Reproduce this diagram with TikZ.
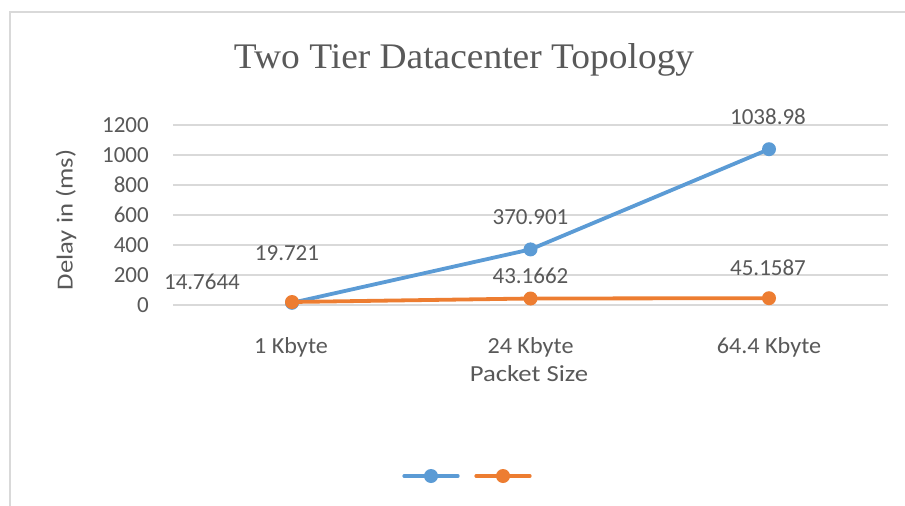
\documentclass[tikz,border=0pt]{standalone}
\usepackage{fontspec}
\setmainfont{Carlito}
\newfontfamily\titlefont[FakeStretch=1.04]{Liberation Serif}
\newfontfamily\catfont[FakeStretch=1.05]{Carlito}
\newfontfamily\axfont[FakeStretch=1.16]{Carlito}
\definecolor{txt}{HTML}{595959}
\definecolor{grid}{HTML}{D9D9D9}
\definecolor{sblue}{HTML}{5B9BD5}
\definecolor{sorange}{HTML}{ED7D31}
\begin{document}
\begin{tikzpicture}[x=1pt,y=-1pt,
  gridline/.style={draw=grid,line width=1.3pt},
  lbl/.style={text=txt,font=\fontsize{23}{26}\selectfont,inner sep=0pt},
  catlbl/.style={lbl,font=\catfont\fontsize{23}{26}\selectfont},
  axlbl/.style={lbl,font=\axfont\fontsize{23}{26}\selectfont},
  ticklbl/.style={lbl,anchor=east},
  serie/.style={line width=3.8pt,line cap=round,line join=round},
  mk/.style={circle,fill=#1,inner sep=0pt,minimum size=14pt}]
\useasboundingbox (0,0) rectangle (905,506);
\fill[white] (0,0) rectangle (905,506);
\draw[draw=grid,line width=1.5pt] (10,506) -- (10,12) -- (905,12);
% title
\node[text=txt,font=\titlefont\fontsize{36}{40}\selectfont,inner sep=0pt] (title) at (464,60) {Two Tier Datacenter Topology};
% grid and ticks
\foreach \v/\y in {0/305,200/275,400/245,600/215,800/185,1000/155,1200/125}{
  \draw[gridline] (173,\y) -- (888,\y);
  \node[ticklbl] (t\v) at (149,\y) {\v};
}
\node[axlbl,rotate=90] (ytitle) at (66,220) {Delay in (ms)};
% categories
\node[catlbl] (c1) at (291,347) {1 Kbyte};
\node[catlbl] (c2) at (530.5,347) {24 Kbyte};
\node[catlbl] (c3) at (769,347) {64.4 Kbyte};
\node[axlbl] (xtitle) at (529,374) {Packet Size};
% data
\coordinate (b1) at (292,302.8);
\coordinate (b2) at (530.5,249.4);
\coordinate (b3) at (769,149.2);
\coordinate (o1) at (292,302.0);
\coordinate (o2) at (530.5,298.5);
\coordinate (o3) at (769,298.2);
\draw[serie,sblue] (b1) -- (b2) -- (b3);
\foreach \p in {b1,b2,b3} \node[mk=sblue] at (\p) {};
\draw[serie,sorange] (o1) -- (o2) -- (o3);
\foreach \p in {o1,o2,o3} \node[mk=sorange] at (\p) {};
% data labels
\node[lbl] (l1) at (202,282) {14.7644};
\node[lbl] (l2) at (287,253) {19.721};
\node[lbl] (l3) at (530.5,217) {370.901};
\node[lbl] (l4) at (768,117) {1038.98};
\node[lbl] (l5) at (530.5,276) {43.1662};
\node[lbl] (l6) at (768,268) {45.1587};
% legend
\coordinate (lb1) at (404,476); \coordinate (lb2) at (458,476);
\coordinate (lo1) at (476,476); \coordinate (lo2) at (530,476);
\draw[serie,sblue,line width=3.2pt] (lb1) -- (lb2);
\node[mk=sblue] (lbm) at (431,476) {};
\draw[serie,sorange,line width=3.2pt] (lo1) -- (lo2);
\node[mk=sorange] (lom) at (503,476) {};
\end{tikzpicture}
\end{document}
